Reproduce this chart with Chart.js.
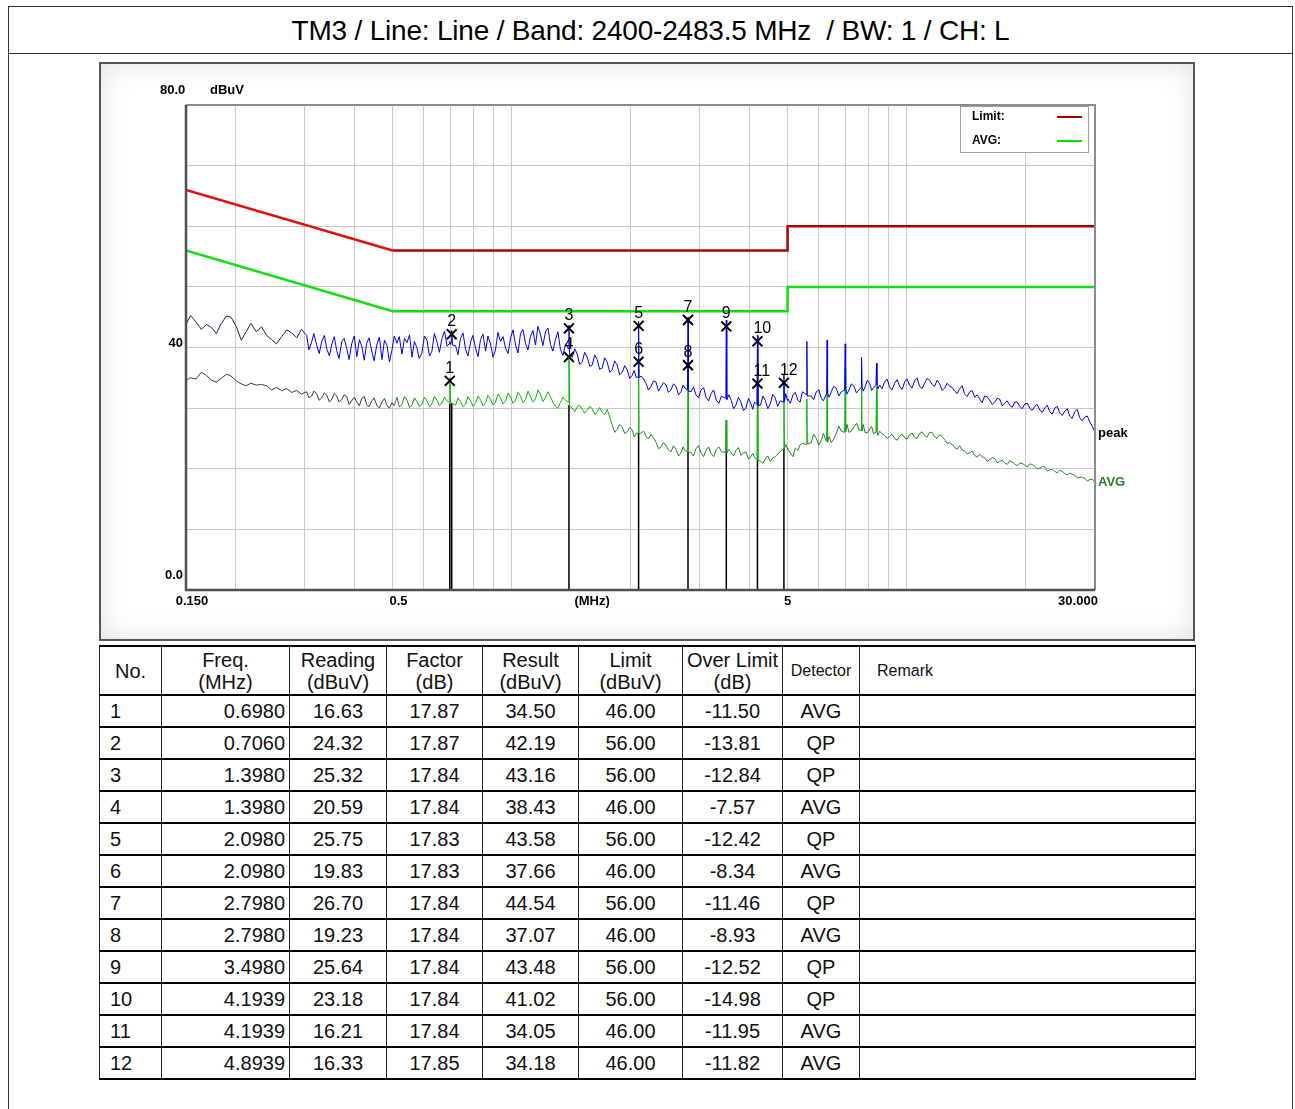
<!DOCTYPE html>
<html><head><meta charset="utf-8">
<script src="https://cdn.jsdelivr.net/npm/chart.js@4.4.1/dist/chart.umd.min.js"></script>
<style>
html,body{margin:0;padding:0;background:#fff;}
body{font-family:"Liberation Sans",Arial,sans-serif;width:1295px;height:1109px;overflow:hidden;position:relative;}
#frame{position:absolute;left:8px;top:6px;width:1285px;height:1120px;border:1px solid #333;box-sizing:border-box;}
#title{position:absolute;left:8px;top:6px;width:1285px;height:48px;box-sizing:border-box;border:1px solid #333;font-size:28px;line-height:47px;text-align:center;white-space:pre;color:#000;letter-spacing:-0.2px;}
#panel{position:absolute;left:99px;top:62px;width:1096px;height:579px;box-sizing:border-box;border:2px solid #555;background:#fff;box-shadow:inset 0 0 28px #e2e2e2;}
#chartbox{position:absolute;left:100px;top:62px;width:1093px;height:578px;}
table{position:absolute;left:99px;top:645px;border-collapse:collapse;table-layout:fixed;width:1096px;font-size:20px;color:#111;}
td,th{border-top:2px solid #000;border-bottom:2px solid #000;border-left:1.5px solid #222;border-right:1.5px solid #222;padding:0;font-weight:normal;}
th{height:47px;line-height:22px;text-align:center;}
td{height:30px;line-height:28px;text-align:center;}
td.no{text-align:left;padding-left:10px;}
td.fr{text-align:right;padding-right:4px;}
th.sm{font-size:16px;}
th.rm{font-size:16px;text-align:left;padding-left:17px;}
</style>
</head><body>
<div id="frame"></div>
<div id="title">TM3 / Line: Line / Band: 2400-2483.5 MHz  / BW: 1 / CH: L</div>
<div id="panel"></div>
<div id="chartbox"><canvas id="c"></canvas></div>
<table id="tbl"></table>
<script>
// ---------------- data ----------------
const freqs = [
 0.150,0.154,0.159,0.164,0.169,0.174,0.179,0.184,0.190,0.195,0.201,0.207,0.213,0.219,0.226,0.233,0.240,0.247,0.254,0.262,0.270,
 0.278,0.286,0.294,0.303,0.312,0.321,0.331,0.341,0.351,0.361,0.372,0.383,0.394,0.406,0.418,0.430,0.443,0.456,0.470,0.484,0.498,
 0.513,0.528,0.544,0.560,0.576,0.593,0.611,0.629,0.648,0.667,0.687,0.695,0.698,0.701,0.703,0.706,0.709,0.722,0.743,0.765,0.788,
 0.811,0.835,0.860,0.885,0.911,0.938,0.966,0.995,1.024,1.054,1.085,1.117,1.150,1.184,1.219,1.255,1.292,1.330,1.370,1.393,1.398,
 1.403,1.425,1.467,1.510,1.555,1.601,1.648,1.697,1.747,1.799,1.852,1.907,1.963,2.021,2.070,2.092,2.098,2.104,2.130,2.190,2.255,
 2.322,2.390,2.461,2.534,2.609,2.686,2.750,2.790,2.798,2.806,2.850,2.930,3.020,3.110,3.200,3.300,3.400,3.488,3.498,3.508,3.600,
 3.700,3.810,3.920,4.040,4.120,4.182,4.194,4.206,4.270,4.390,4.520,4.650,4.790,4.880,4.894,4.908,4.990,
 5.01,5.16,5.31,5.45,5.578,5.594,5.610,5.74,5.91,6.08,6.276,6.294,6.312,6.45,6.64,6.84,6.974,6.994,7.014,7.15,7.36,7.58,
 7.672,7.694,7.716,7.85,8.08,8.25,8.370,8.394,8.418,8.55,8.80,9.06,9.33,9.61,9.89,10.18,10.48,10.79,11.11,11.44,11.78,12.13,
 12.49,12.86,13.24,13.63,14.03,14.45,14.88,15.32,15.77,16.24,16.72,17.21,17.72,18.25,18.79,19.34,19.92,20.50,21.11,21.74,
 22.38,23.04,23.72,24.43,25.15,25.89,26.66,27.45,28.26,29.10,29.96
];
const peakVals = [
 43.8,45.3,44.2,43.0,43.8,43.3,42.3,43.9,45.2,45.0,43.5,41.2,42.6,44.0,42.6,43.4,42.0,41.3,40.6,41.8,42.9,
 42.4,41.6,43.0,42.0,40.9,40.5,41.0,39.7,40.6,39.5,41.0,39.8,40.6,38.5,40.2,40.7,39.4,40.4,38.0,40.4,39.5,
 40.7,38.9,40.8,38.4,40.0,39.0,41.2,39.4,40.9,41.5,40.2,40.6,41.0,40.5,40.8,42.8,40.4,40.3,41.5,39.7,40.9,
 39.9,41.3,39.4,40.6,39.6,41.0,39.9,41.6,40.4,42.3,40.7,41.8,40.4,42.2,42.6,40.5,41.3,39.7,40.6,39.8,43.7,
 38.9,38.4,38.9,37.6,38.4,37.1,38.0,36.6,37.6,36.3,37.1,35.9,36.3,35.4,35.0,35.2,44.3,35.0,35.3,34.1,33.6,
 34.3,33.5,33.8,33.0,33.6,32.7,33.3,33.0,45.0,32.8,32.7,32.2,33.0,31.7,32.4,31.3,32.0,31.6,44.5,31.4,31.3,
 30.5,31.0,30.0,30.7,31.0,30.6,42.0,30.4,30.5,31.3,30.7,31.7,31.2,31.0,35.5,31.1,31.3,
 31.5,32.2,31.3,32.7,32.2,41.0,32.0,32.0,32.7,31.7,32.4,41.2,32.5,32.7,33.3,32.7,33.0,40.6,33.2,33.0,33.6,33.0,
 33.4,38.4,33.5,33.5,34.0,33.4,33.7,37.4,33.8,33.8,34.3,33.5,34.1,33.6,34.3,33.8,34.5,33.6,34.1,34.6,33.6,34.0,
 33.3,33.6,32.8,33.2,32.3,32.7,31.8,31.5,32.0,31.3,31.0,31.5,30.8,30.5,31.0,30.3,30.7,30.0,30.3,29.7,
 30.0,29.4,30.0,29.2,29.5,28.7,29.4,28.4,28.5,27.7,26.1
];
const avgVals = [
 34.6,35.0,34.8,35.9,35.4,34.6,34.3,34.9,35.6,35.3,34.5,34.0,33.7,34.1,33.8,33.9,33.7,33.0,33.4,32.9,33.2,
 32.6,32.9,32.3,32.7,32.0,32.4,31.7,32.1,31.5,32.0,31.4,31.9,31.2,31.0,31.6,30.6,31.2,30.5,31.0,30.4,30.9,
 31.8,30.6,31.3,30.5,31.1,30.6,31.2,30.7,31.3,30.8,31.2,31.0,35.0,31.0,30.8,30.9,30.7,30.5,31.1,30.6,31.2,
 30.8,31.4,30.9,31.5,31.0,31.7,31.2,31.8,31.3,32.0,31.4,31.9,31.5,32.3,31.7,31.9,30.3,30.9,31.3,31.0,38.8,
 30.4,30.0,30.2,29.8,29.6,29.9,29.4,29.3,29.8,27.2,26.5,26.9,26.1,26.4,25.8,25.9,38.0,25.7,25.9,25.4,25.7,
 24.4,23.6,23.9,22.8,23.2,22.6,23.0,22.8,37.5,22.7,22.7,23.3,22.6,23.1,22.5,23.2,22.8,22.7,28.0,22.6,22.6,
 23.0,22.2,22.8,22.0,21.9,21.5,34.4,21.4,21.3,21.6,21.2,22.0,22.9,23.2,34.5,23.3,23.4,
 23.2,22.0,23.0,24.2,24.0,31.5,24.1,24.3,25.0,24.6,24.5,33.0,24.4,24.3,25.8,26.2,26.0,36.5,26.1,26.0,26.9,26.4,
 26.3,37.0,26.2,26.0,26.6,25.8,26.0,33.5,26.1,26.2,25.5,25.3,25.0,25.4,25.1,25.6,25.2,25.8,25.5,26.0,25.3,25.6,
 24.8,24.3,23.5,23.8,22.9,22.6,22.2,22.4,21.8,21.5,21.7,21.2,21.0,21.3,20.8,20.9,20.6,20.8,20.4,20.1,
 20.3,19.8,19.6,19.7,19.2,19.3,18.9,18.6,18.4,18.2,17.8
];
// extra in-between samples (noise detail)
const detailFreqs = [
 0.307,0.316,0.326,0.336,0.346,0.356,0.366,0.377,0.388,0.400,0.412,0.424,0.436,0.449,0.463,0.477,0.491,0.505,
 0.520,0.536,0.552,0.568,0.584,0.602,0.620,0.638,0.657,0.677,0.732,0.754,0.776,0.799,0.823,0.847,0.872,0.898,
 0.924,0.952,0.980,1.009,1.039,1.069,1.101,1.133,1.167,1.201,1.237,1.273,1.311,1.350,
 1.446,1.488,1.532,1.578,1.624,1.672,1.722,1.773,1.825,1.879,1.935,1.992,2.045,
 2.160,2.222,2.288,2.356,2.425,2.497,2.571,2.647,2.718,2.890,2.975,3.065,3.155,3.250,3.350,3.550,3.650,3.755,
 3.865,3.980,4.080,4.330,4.455,4.585,4.720,4.950,
 5.08,5.23,5.38,5.82,6.00,6.16,6.37,6.54,6.74,7.07,7.25,7.47,7.77,7.96,8.16,8.47,
 8.67,8.93,9.19,9.47,9.75,10.03,10.33,10.63,10.95,11.27,11.61,11.95,12.31,12.67,13.05,13.43,13.83,14.24,14.66,
 15.10,15.54,16.00,16.48,16.96,17.46,17.98,18.52,19.06,19.63,20.21,20.80,21.42,22.06,22.71,23.38,24.07,24.79,
 25.52,26.27,27.05,27.85,28.68,29.53
];
const detailPeak = [
 39.6,42.3,39.0,42.0,38.6,41.8,38.2,41.5,38.0,41.9,41.3,37.9,41.6,37.8,41.7,41.2,37.6,41.9,
 41.8,41.5,42.1,41.0,38.2,41.9,38.6,42.3,39.2,42.7,38.8,42.4,38.6,42.0,38.5,42.2,41.9,38.4,
 42.5,41.8,39.0,42.9,39.1,43.0,39.6,42.8,43.5,40.3,43.2,39.4,42.6,38.7,
 39.8,37.2,39.2,36.9,38.8,36.4,38.3,35.9,37.8,35.5,37.0,34.9,36.2,
 34.8,33.0,34.5,32.8,34.2,32.6,34.0,32.2,33.8,33.5,31.7,33.4,31.2,33.0,30.8,32.2,29.9,31.8,
 29.6,31.6,29.8,32.0,29.9,32.3,30.3,32.4,
 30.8,32.6,31.0,31.4,33.0,31.2,31.8,33.6,32.0,32.3,34.0,32.5,32.8,34.6,32.9,33.2,
 33.2,34.8,33.0,34.7,33.1,34.8,33.3,35.0,33.2,34.9,33.9,34.6,32.9,34.1,33.4,32.4,33.7,31.9,32.9,
 32.2,30.9,31.9,30.6,31.6,30.4,31.2,30.1,31.0,29.9,30.8,29.6,30.6,29.3,30.5,29.0,30.3,28.8,
 29.9,28.3,29.8,27.9,28.7,27.0
];
const detailAvg = [
 31.7,32.8,31.3,32.5,31.0,32.4,31.0,32.2,30.6,31.8,30.4,31.9,30.2,31.7,30.0,31.6,30.0,30.4,
 30.2,31.9,30.1,31.7,30.3,31.8,30.2,31.9,30.4,31.8,31.7,30.2,31.9,30.3,32.0,30.4,32.1,30.5,
 32.3,30.7,32.5,30.8,32.6,30.9,32.8,31.0,33.0,31.1,32.7,31.0,30.0,31.8,
 29.4,30.5,29.2,30.3,29.0,30.1,28.9,28.5,26.0,27.3,25.8,26.8,25.3,
 26.2,24.9,25.1,23.3,24.3,23.1,23.8,22.1,23.6,22.1,23.8,22.0,23.6,22.0,23.6,23.2,22.1,23.5,
 22.6,21.6,22.5,20.9,22.1,21.8,22.4,24.0,
 22.6,23.4,24.0,25.7,23.9,25.8,25.3,24.9,27.0,27.3,26.2,27.5,27.3,25.9,27.0,25.5,
 25.8,25.0,25.7,24.7,25.7,24.9,25.9,25.0,26.1,25.2,26.0,25.0,25.3,24.2,24.0,23.2,23.1,22.5,22.9,
 21.9,22.0,21.2,21.8,21.0,21.4,20.7,21.1,20.5,20.9,20.3,20.7,20.0,20.4,19.6,19.9,19.3,19.6,
 19.0,19.1,18.5,18.6,18.0,18.3
];
const limitFreqs = [0.15, 0.5, 5, 5, 30];
const qpLimit    = [66, 56, 56, 60, 60];
const avgLimit   = [56, 46, 46, 50, 50];
const gridFreqs  = [0.2,0.3,0.4,0.5,0.6,0.7,0.8,0.9,1,2,3,4,5,6,7,8,9,10,20];

// marker table
const markerNo     = [1,2,3,4,5,6,7,8,9,10,11,12];
const markerFreqs  = [0.6980,0.7060,1.3980,1.3980,2.0980,2.0980,2.7980,2.7980,3.4980,4.1939,4.1939,4.8939];
const readings     = [16.63,24.32,25.32,20.59,25.75,19.83,26.70,19.23,25.64,23.18,16.21,16.33];
const factors      = [17.87,17.87,17.84,17.84,17.83,17.83,17.84,17.84,17.84,17.84,17.84,17.85];
const results      = [34.50,42.19,43.16,38.43,43.58,37.66,44.54,37.07,43.48,41.02,34.05,34.18];
const limits       = [46.00,56.00,56.00,46.00,56.00,46.00,56.00,46.00,56.00,56.00,46.00,46.00];
const overLimits   = [-11.50,-13.81,-12.84,-7.57,-12.42,-8.34,-11.46,-8.93,-12.52,-14.98,-11.95,-11.82];
const detectors    = ['AVG','QP','QP','AVG','QP','AVG','QP','AVG','QP','QP','AVG','AVG'];

// vertical marker stems (from axis up to AVG floor)
const stemFreqs = [0.698,0.706,1.398,2.098,2.798,3.498,4.1939,4.8939];
const stemTops  = [30.8,30.8,30.5,25.9,22.8,28.0,21.4,23.3];

// ---------------- table ----------------
(function(){
  const t = document.getElementById('tbl');
  const widths=[62,128,97,96,96,104,100,77,336];
  let h='<colgroup>'+widths.map(w=>'<col style="width:'+w+'px">').join('')+'</colgroup>';
  h+='<tr><th>No.</th><th>Freq.<br>(MHz)</th><th>Reading<br>(dBuV)</th><th>Factor<br>(dB)</th><th>Result<br>(dBuV)</th><th>Limit<br>(dBuV)</th><th>Over Limit<br>(dB)</th><th class="sm">Detector</th><th class="rm">Remark</th></tr>';
  for(let i=0;i<markerNo.length;i++){
    h+='<tr><td class="no">'+markerNo[i]+'</td><td class="fr">'+markerFreqs[i].toFixed(4)+'</td><td>'+readings[i].toFixed(2)+'</td><td>'+factors[i].toFixed(2)+'</td><td>'+results[i].toFixed(2)+'</td><td>'+limits[i].toFixed(2)+'</td><td>'+overLimits[i].toFixed(2)+'</td><td>'+detectors[i]+'</td><td></td></tr>';
  }
  t.innerHTML=h;
})();

// ---------------- chart ----------------
const xy = (xs, ys) => xs.map((x,i)=>({x:x, y:ys[i]}));
const merged = (ys, dys) => xy(freqs, ys).concat(xy(detailFreqs, dys)).sort((a,b)=>a.x-b.x);
const stemData = [];
stemFreqs.forEach((f,i)=>{ stemData.push({x:f,y:0},{x:f,y:stemTops[i]},{x:f,y:null}); });

const FONT = '"Liberation Sans", Arial, sans-serif';

const overlay = {
  id:'overlay',
  afterDatasetsDraw(chart){
    const {ctx} = chart;
    const meta = chart.getDatasetMeta(5);
    ctx.save();
    ctx.fillStyle='#000';
    ctx.font='16px '+FONT;
    ctx.textBaseline='alphabetic';
    meta.data.forEach((pt,i)=>{
      const lab=String(markerNo[i]);
      if(lab.length>1){ ctx.textAlign='left'; ctx.fillText(lab, pt.x-4, pt.y-8); }
      else { ctx.textAlign='center'; ctx.fillText(lab, pt.x, pt.y-8); }
    });
    ctx.restore();
  },
  afterDraw(chart){
    const {ctx, chartArea:a, scales:{x,y}} = chart;
    ctx.save();
    ctx.lineWidth=2;
    ctx.strokeStyle='#8c8c8c';
    ctx.beginPath(); ctx.moveTo(a.left,a.top); ctx.lineTo(a.right,a.top); ctx.lineTo(a.right,a.bottom); ctx.stroke();
    ctx.lineWidth=2.5; ctx.strokeStyle='#505050';
    ctx.beginPath(); ctx.moveTo(a.left,a.top); ctx.lineTo(a.left,a.bottom); ctx.lineTo(a.right,a.bottom); ctx.stroke();
    ctx.fillStyle='#000';
    ctx.font='bold 13px '+FONT;
    ctx.textBaseline='middle';
    ctx.textAlign='left';
    ctx.fillText('80.0', a.left-26, a.top-15);
    ctx.fillText('dBuV', a.left+24, a.top-15);
    ctx.textAlign='right';
    ctx.fillText('40', a.left-3, y.getPixelForValue(40)-4);
    ctx.fillText('0.0', a.left-3, a.bottom-15);
    ctx.textAlign='center';
    const ly=a.bottom+11;
    ctx.fillText('0.150', a.left+6, ly);
    ctx.fillText('0.5', x.getPixelForValue(0.5)+6, ly);
    ctx.fillText('(MHz)', x.getPixelForValue(1.6), ly);
    ctx.fillText('5', x.getPixelForValue(5), ly);
    ctx.fillText('30.000', a.right-17, ly);
    ctx.textAlign='left';
    ctx.fillStyle='#000';
    ctx.fillText('peak', a.right+3, y.getPixelForValue(peakVals[peakVals.length-1])+2);
    ctx.fillStyle='#2a7a2a';
    ctx.fillText('AVG', a.right+3, y.getPixelForValue(avgVals[avgVals.length-1]));
    const bx=a.right-135, by=a.top+1, bw=128, bh=46;
    ctx.fillStyle='#fff'; ctx.fillRect(bx,by,bw,bh);
    ctx.strokeStyle='#a0a0a0'; ctx.lineWidth=1;
    ctx.strokeRect(bx+0.5,by+0.5,bw,bh);
    ctx.fillStyle='#000'; ctx.font='bold 12px '+FONT;
    ctx.fillText('Limit:', bx+12, by+11);
    ctx.fillText('AVG:', bx+12, by+35);
    ctx.lineWidth=2;
    ctx.strokeStyle='#a00000'; ctx.beginPath(); ctx.moveTo(bx+97,by+11); ctx.lineTo(bx+122,by+11); ctx.stroke();
    ctx.strokeStyle='#00e000'; ctx.beginPath(); ctx.moveTo(bx+97,by+35); ctx.lineTo(bx+122,by+35); ctx.stroke();
    ctx.restore();
  }
};

new Chart(document.getElementById('c'), {
  type:'line',
  data:{ datasets:[
    { label:'stems', data:stemData, borderColor:'#000', borderWidth:1.5, pointRadius:0, spanGaps:false, order:6 },
    { label:'AVG', data:merged(avgVals, detailAvg), borderWidth:1, pointRadius:0, tension:0,
      borderColor:'#1f7a1f',
      segment:{ borderColor: c => c.p0.parsed.x < 0.5 ? '#3a3a3a' : ((c.p1.parsed.y > 27.6 && c.p1.parsed.x>0.6) || (c.p0.parsed.y>27.6 && c.p0.parsed.x>0.6) ? '#10b010' : '#2a7d2a') }, order:4 },
    { label:'peak', data:merged(peakVals, detailPeak), borderWidth:1, pointRadius:0, tension:0,
      borderColor:'#0000ee',
      segment:{ borderColor: c => c.p0.parsed.x < 0.29 ? '#202048' : '#0000ee' }, order:3 },
    { label:'Limit', data:xy(limitFreqs,qpLimit), borderWidth:2.5, pointRadius:0,
      borderColor:'#b00000', segment:{ borderColor: c => c.p0.parsed.x < 0.5 ? '#e01010' : '#b00000' }, order:2 },
    { label:'AVG limit', data:xy(limitFreqs,avgLimit), borderWidth:2.5, pointRadius:0, borderColor:'#10e010', order:1 },
    { label:'markers', data:xy(markerFreqs,results), showLine:false, pointStyle:'crossRot', pointRadius:7,
      pointBorderColor:'#000', pointBorderWidth:2, borderColor:'#000', order:0 }
  ]},
  options:{
    responsive:true, maintainAspectRatio:false, animation:false, devicePixelRatio:1,
    layout:{ padding:{ left:86, right:98, top:43, bottom:50 } },
    plugins:{ legend:{display:false}, tooltip:{enabled:false} },
    scales:{
      x:{ type:'logarithmic', min:0.15, max:30,
          afterBuildTicks: s => { s.ticks = gridFreqs.map(v=>({value:v})); },
          afterFit: s => { s.height = 0; },
          ticks:{display:false}, border:{display:false},
          grid:{ color:'#c9c9c9', lineWidth:1, drawTicks:false } },
      y:{ type:'linear', min:0, max:80,
          ticks:{display:false, stepSize:10}, border:{display:false},
          afterFit: s => { s.width = 0; },
          grid:{ color:'#c9c9c9', lineWidth:1, drawTicks:false } }
    }
  },
  plugins:[overlay]
});
</script>
</body></html>
